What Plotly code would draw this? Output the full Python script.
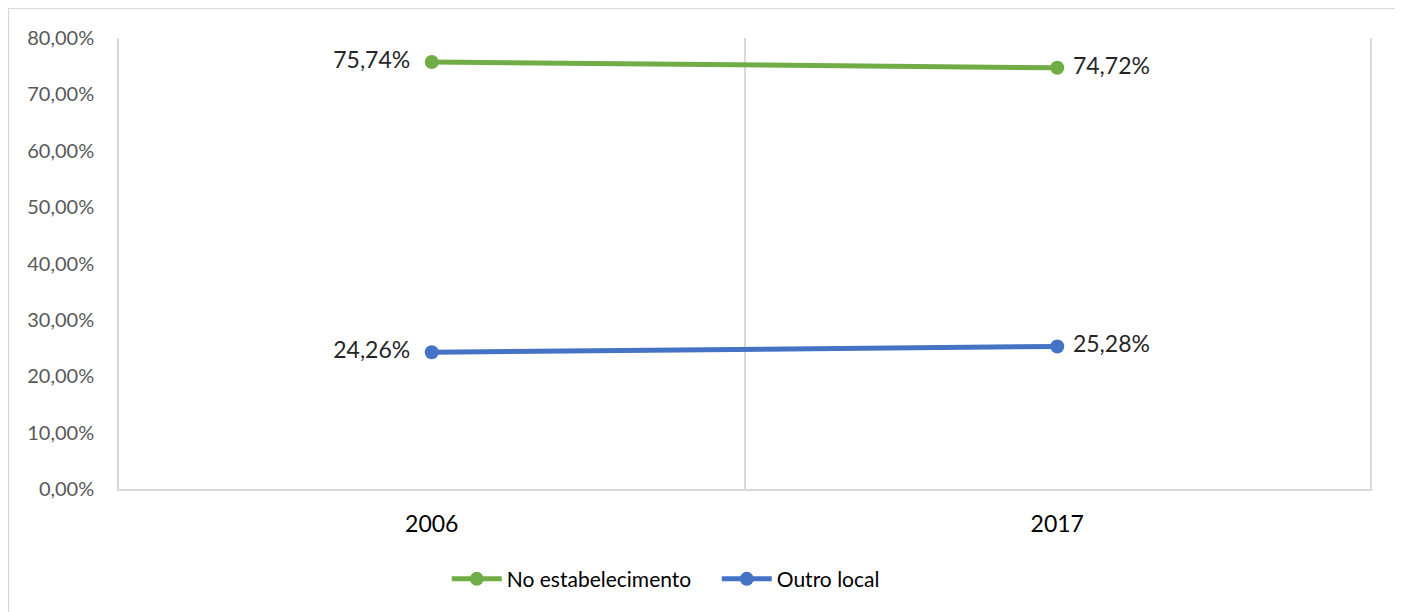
import plotly.graph_objects as go

years = ["2006", "2017"]
no_estab = [0.7574, 0.7472]
outro = [0.2426, 0.2528]
y_ticks = [0, 0.1, 0.2, 0.3, 0.4, 0.5, 0.6, 0.7, 0.8]

xpos = list(range(len(years)))
FONT = "Lato"
NB = "\u00a0"

fig = go.Figure()
for name, vals, color in [("No estabelecimento", no_estab, "#70AD47"),
                          ("Outro local", outro, "#4472C4")]:
    labels = [f"{v*100:.2f}%".replace(".", ",") for v in vals]
    labels = [labels[0] + NB * 2, NB + labels[1]]
    fig.add_trace(go.Scatter(
        x=xpos, y=vals, name=name, mode="lines+markers+text",
        line=dict(color=color, width=5),
        marker=dict(color=color, size=14),
        text=labels,
        textposition=["middle left", "middle right"],
        textfont=dict(family=FONT, size=23, color="#262626"),
        cliponaxis=False,
    ))

fig.update_layout(
    width=1403, height=612,
    margin=dict(l=111, r=41, t=30, b=131),
    paper_bgcolor="white", plot_bgcolor="white",
    separators=",.",
    font=dict(family=FONT),
    xaxis=dict(
        range=[-0.5, 1.5], tickvals=xpos, ticktext=years,
        showgrid=False, zeroline=False,
        showline=True, linecolor="#D9D9D9", linewidth=1.5,
        tickfont=dict(family=FONT, size=23, color="#000000"),
        ticks="", ticklabelstandoff=14,
        minor=dict(tick0=-0.5, dtick=1, showgrid=True, gridcolor="#D9D9D9", gridwidth=1.5, ticks=""),
    ),
    yaxis=dict(
        range=[0, 0.8], tickvals=y_ticks, tickformat=".2%",
        showgrid=False, zeroline=False,
        showline=True, mirror=True, linecolor="#D9D9D9", linewidth=1.5,
        tickfont=dict(family=FONT, size=20, color="#595959"),
        ticks="", ticklabelstandoff=19,
    ),
    legend=dict(
        orientation="h", x=0.262, xanchor="left", y=-0.2, yanchor="middle",
        font=dict(family=FONT, size=21, color="#000000"),
        itemwidth=50,
        entrywidth=205, entrywidthmode="pixels",
    ),
    shapes=[dict(type="rect", xref="paper", yref="paper",
                 x0=-0.0887, x1=1.0224, y0=-0.35, y1=1.0665,
                 line=dict(color="#D9D9D9", width=2), layer="below")],
)

fig.write_html("out.html")
